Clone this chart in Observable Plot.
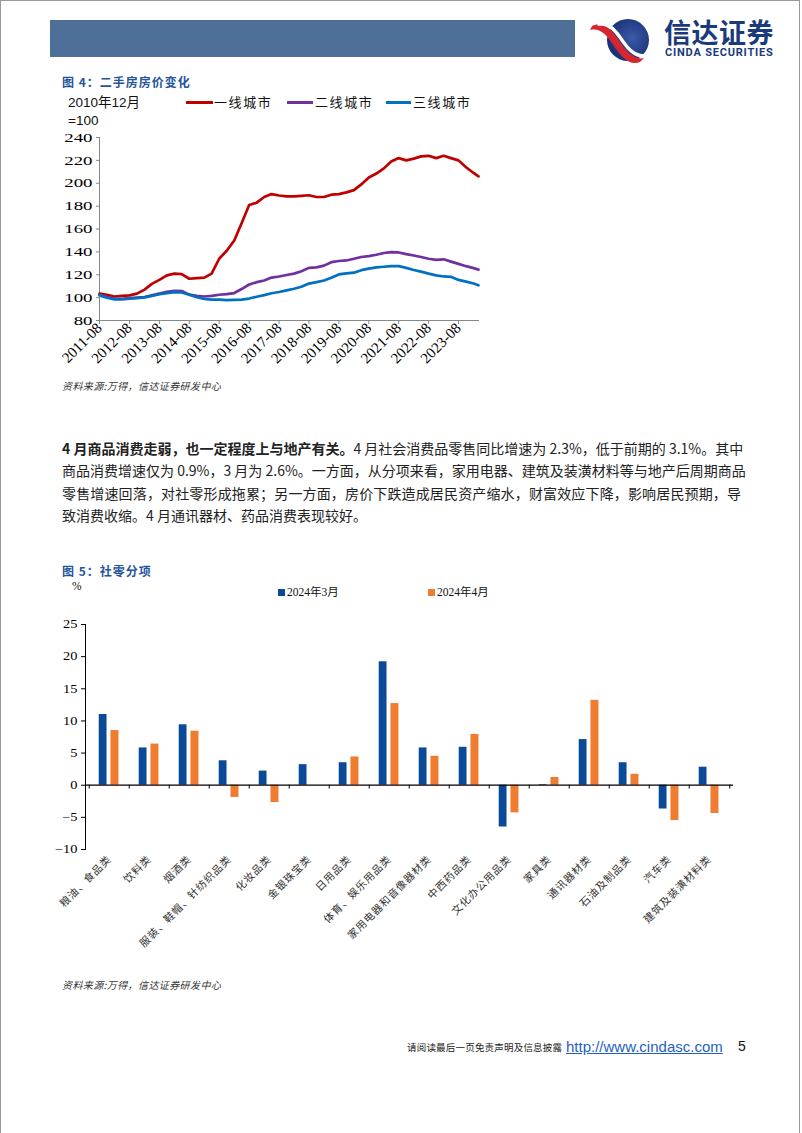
<!DOCTYPE html>
<html><head><meta charset="utf-8">
<script src="https://cdn.jsdelivr.net/npm/d3@7"></script>
<script src="https://cdn.jsdelivr.net/npm/@observablehq/plot@0.6"></script>
<style>
html,body{margin:0;padding:0;background:#fff;}
#page{position:relative;width:802px;height:1133px;overflow:hidden;font-family:"Noto Sans CJK SC",sans-serif;color:#222;}
.a{position:absolute;white-space:nowrap;}
.title{font-size:12px;font-weight:700;color:#25549a;letter-spacing:1px;line-height:16px;}
.src{font-size:10px;font-style:italic;color:#333;letter-spacing:0.4px;line-height:14px;font-family:"Noto Sans CJK SC",sans-serif;}
.para{left:62px;width:679px;font-size:14px;line-height:22px;color:#222;text-align:justify;text-align-last:justify;}
.leg{font-size:13px;line-height:16px;color:#111;letter-spacing:1.6px;}
.sw{position:absolute;height:3px;}
.bleg{font-family:"Liberation Serif","Noto Sans CJK SC",serif;font-size:11.5px;line-height:14px;color:#111;}
.sq{position:absolute;width:7px;height:7px;}
</style></head>
<body><div id="page">
<div class="a" style="left:0;top:0;width:800px;height:1133px;border-left:1px solid #999;border-top:1px solid #999;border-right:1px solid #999;box-sizing:border-box;"></div>
<div class="a" style="left:50px;top:20px;width:525px;height:37px;background:#4e6f98;"></div>
<svg class="a" style="left:586px;top:16px;" width="72" height="50" viewBox="0 0 72 50">
  <defs><radialGradient id="lg" cx="0.6" cy="0.45" r="0.6"><stop offset="0" stop-color="#3c5aa8"/><stop offset="1" stop-color="#162f72"/></radialGradient></defs>
  <circle cx="42" cy="24" r="21" fill="url(#lg)"/>
  <path d="M6,10 C18,4 26,14 34,26 C42,38 50,44 58,42 L54,46 C44,50 36,42 28,30 C20,18 14,12 4,14 Z" fill="#d7262f"/>
  <path d="M11,8 C22,3 30,12 38,24 C46,36 54,40 62,37 L60,40 C52,44 44,38 36,27 C28,15 22,8 12,10 Z" fill="#fff"/>
</svg>
<div class="a" style="left:664px;top:18px;font-size:27px;line-height:28px;font-weight:700;color:#1b3a7c;letter-spacing:0.5px;">信达证券<br><span style="display:inline-block;vertical-align:top;position:relative;top:1px;left:1px;font-family:Roboto,sans-serif;font-size:11px;line-height:12px;letter-spacing:0.8px;">CINDA SECURITIES</span></div>

<div class="a title" style="left:62px;top:74px;">图 4：二手房房价变化</div>
<div class="a" style="left:68px;top:94px;font-family:'Liberation Sans','Noto Sans CJK SC',sans-serif;font-size:13.5px;line-height:17px;color:#111;">2010年12月</div>
<div class="a" style="left:68px;top:112px;font-family:'Liberation Sans',sans-serif;font-size:13.5px;line-height:17px;color:#111;">=100</div>
<div class="sw" style="left:186px;top:101px;width:27px;background:#c00000;"></div>
<div class="a leg" style="left:214px;top:94px;">一线城市</div>
<div class="sw" style="left:287px;top:101px;width:26px;background:#7030a0;"></div>
<div class="a leg" style="left:315px;top:94px;">二线城市</div>
<div class="sw" style="left:386px;top:101px;width:25px;background:#0070c0;"></div>
<div class="a leg" style="left:413px;top:94px;">三线城市</div>
<div id="c1" class="a" style="left:0;top:125px;"></div>
<div class="a src" style="left:62px;top:379px;">资料来源:万得，信达证券研发中心</div>

<div class="a para" style="top:437px;"><b>4 月商品消费走弱，也一定程度上与地产有关。</b>4 月社会消费品零售同比增速为 2.3%，低于前期的 3.1%。其中</div>
<div class="a para" style="top:459px;">商品消费增速仅为 0.9%，3 月为 2.6%。一方面，从分项来看，家用电器、建筑及装潢材料等与地产后周期商品</div>
<div class="a para" style="top:482px;">零售增速回落，对社零形成拖累；另一方面，房价下跌造成居民资产缩水，财富效应下降，影响居民预期，导</div>
<div class="a para" style="top:504px;text-align-last:left;">致消费收缩。4 月通讯器材、药品消费表现较好。</div>

<div class="a title" style="left:62px;top:563px;">图 5：社零分项</div>
<div class="a bleg" style="left:72px;top:579px;">%</div>
<div class="sq" style="left:278px;top:589px;background:#0b4a99;"></div>
<div class="a bleg" style="left:287px;top:585px;">2024年3月</div>
<div class="sq" style="left:428px;top:589px;background:#ee7d31;"></div>
<div class="a bleg" style="left:437px;top:585px;">2024年4月</div>
<div id="c2" class="a" style="left:0;top:610px;"></div>
<div class="a src" style="left:62px;top:978px;">资料来源:万得，信达证券研发中心</div>

<div class="a" style="left:407px;top:1039px;font-size:9.5px;line-height:16px;color:#222;letter-spacing:0.2px;">请阅读最后一页免责声明及信息披露</div>
<div class="a" style="left:566px;top:1038px;font-family:'Liberation Sans',sans-serif;font-size:15px;line-height:17px;color:#1f5fbf;text-decoration:underline;">http://www.cindasc.com</div>
<div class="a" style="left:738px;top:1038px;font-family:'Liberation Sans',sans-serif;font-size:14px;line-height:17px;color:#111;">5</div>
</div>
<script>
// ---------- Chart 1: 二手房房价变化 (2010年12月=100) ----------
const dates = ["2011-08","2011-11","2012-02","2012-05","2012-08","2012-11","2013-02","2013-05","2013-08","2013-11",
"2014-02","2014-05","2014-08","2014-11","2015-02","2015-05","2015-08","2015-11","2016-02","2016-05",
"2016-08","2016-11","2017-02","2017-05","2017-08","2017-11","2018-02","2018-05","2018-08","2018-11",
"2019-02","2019-05","2019-08","2019-11","2020-02","2020-05","2020-08","2020-11","2021-02","2021-05",
"2021-08","2021-11","2022-02","2022-05","2022-08","2022-11","2023-02","2023-05","2023-08","2023-11",
"2024-02","2024-04"];
const tier1 = [103.5,102.5,101,101.5,102,103.5,107,112,115.5,119.5,
121,120.5,116.5,117,117.5,121,134,141,150,165,
181,183,188,190.5,189.3,188.5,188.5,189,189.5,188,
188,190,190.5,192,194,199,205,208.5,213,219,
222,220,221.5,223.5,224,222,224,222,220,214,
209,206];
const tier2 = [102.5,100.5,99,99,99.5,100,100.5,102,103.5,105,
106,105.8,102.6,101.5,101,101.5,102.5,103,104,107.5,
111.5,113.5,115,117.5,118.5,119.8,121,123,126,126.5,
128,131,132,132.5,134,135.5,136.3,137.5,139,139.8,
139.5,138,136.8,135.5,134,133,133.5,131.5,129.5,127.5,
125.8,124.5];
const tier3 = [102,100,98.5,98.5,99,99.5,100.2,101.5,103,104,
104.8,104.5,102.5,100.3,98.8,98.3,98.2,97.8,98,98.3,
99.2,100.8,102.2,103.8,104.9,106.3,107.8,109.5,112.3,113.5,
115,117.3,120.3,121.2,121.8,124,125.3,126.4,127,127.6,
127.5,126,124.2,122.7,121,119.5,118.5,118.2,115.5,114,
112.3,110.8];
const cityTiers = ["一线城市","二线城市","三线城市"];
const tierColors = ["#c00000","#7030a0","#0070c0"];
const xTickLabels = ["2011-08","2012-08","2013-08","2014-08","2015-08","2016-08","2017-08","2018-08","2019-08","2020-08","2021-08","2022-08","2023-08"];
const yTicks1 = [80,100,120,140,160,180,200,220,240];

// ---------- Chart 2: 社零分项 ----------
const categories = ["粮油、食品类","饮料类","烟酒类","服装、鞋帽、针纺织品类","化妆品类","金银珠宝类","日用品类","体育、娱乐用品类","家用电器和音像器材类","中西药品类","文化办公用品类","家具类","通讯器材类","石油及制品类","汽车类","建筑及装潢材料类"];
const mar2024 = [11.0,5.8,9.4,3.8,2.2,3.2,3.5,19.2,5.8,5.9,-6.5,0.1,7.1,3.5,-3.7,2.8];
const apr2024 = [8.5,6.4,8.4,-1.9,-2.7,null,4.4,12.7,4.5,7.9,-4.3,1.2,13.2,1.7,-5.5,-4.4];
const months = ["2024年3月","2024年4月"];
const monthColors = ["#0b4a99","#ee7d31"];
const yTicks2 = [-10,-5,0,5,10,15,20,25];

function stretchText(svg, selector, sx) {
  svg.querySelectorAll(selector).forEach(t => {
    const tr = t.getAttribute("transform");
    if (tr) t.setAttribute("transform", tr + ` scale(${sx},1)`);
    else { t.style.transformBox = "fill-box"; t.style.transformOrigin = "right center"; t.style.transform = `scaleX(${sx})`; }
  });
}

const parse = d3.utcParse("%Y-%m");
const lineData = [];
[tier1, tier2, tier3].forEach((arr, k) => arr.forEach((v, i) => lineData.push({date: parse(dates[i]), value: v, tier: cityTiers[k]})));

const chart1 = Plot.plot({
  width: 500, height: 267,
  marginLeft: 99, marginRight: 22, marginTop: 12, marginBottom: 72,
  x: {type: "utc", domain: [parse(dates[0]), parse(dates[dates.length - 1])]},
  y: {domain: [80, 240]},
  color: {domain: cityTiers, range: tierColors},
  style: {fontFamily: "'Liberation Serif', serif", fontSize: "13px", color: "#000", background: "transparent", overflow: "visible"},
  marks: [
    Plot.axisY({ticks: yTicks1, tickSize: 3, tickPadding: 4, label: null, stroke: "#888"}),
    Plot.axisX({ticks: xTickLabels.map(parse), tickFormat: d3.utcFormat("%Y-%m"), tickRotate: -45, tickSize: 4, tickPadding: 1, label: null, stroke: "#888", fontSize: 15}),
    Plot.frame({anchor: "left", stroke: "#888"}),
    Plot.frame({anchor: "bottom", stroke: "#888"}),
    Plot.line(lineData, {x: "date", y: "value", z: "tier", stroke: "tier", strokeWidth: 2.7, curve: "linear"})
  ]
});
stretchText(chart1, 'g[aria-label="y-axis tick label"] text', 1.45);
document.getElementById("c1").appendChild(chart1);

const barData = [];
categories.forEach((c, i) => {
  if (mar2024[i] != null) barData.push({cat: c, value: mar2024[i], month: months[0]});
  if (apr2024[i] != null) barData.push({cat: c, value: apr2024[i], month: months[1]});
});
const W2 = 802, ML2 = 85, MR2 = 69;
const bw = (W2 - ML2 - MR2) / categories.length;

const chart2 = Plot.plot({
  width: W2, height: 344,
  marginLeft: ML2, marginRight: MR2, marginTop: 14, marginBottom: 105,
  x: {type: "band", domain: categories, padding: 0},
  y: {domain: [-10, 25]},
  color: {domain: months, range: monthColors},
  style: {fontFamily: "'Liberation Serif', serif", fontSize: "12px", color: "#000", background: "transparent", overflow: "visible"},
  marks: [
    Plot.barY(barData.filter(d => d.month === months[0]), {x: "cat", y: "value", fill: "month", insetLeft: bw * 0.24, insetRight: bw * 0.555}),
    Plot.barY(barData.filter(d => d.month === months[1]), {x: "cat", y: "value", fill: "month", insetLeft: bw * 0.53, insetRight: bw * 0.26}),
    Plot.ruleY([0], {stroke: "#000", strokeWidth: 1.2}),
    Plot.ruleX(categories, {x: d => d, dx: -bw / 2, y1: 0, y2: -0.6, stroke: "#000"}),
    Plot.ruleX(categories.slice(-1), {x: d => d, dx: bw / 2, y1: 0, y2: -0.6, stroke: "#000"}),
    Plot.frame({anchor: "left", stroke: "#000"}),
    Plot.axisY({ticks: yTicks2, tickSize: 4, tickPadding: 4, label: null}),
    Plot.axisX({tickRotate: -45, tickSize: 0, tickPadding: 8, label: null, fontFamily: "'Noto Sans CJK SC', sans-serif", fontSize: 10.5, fill: "#333"})
  ]
});
stretchText(chart2, 'g[aria-label="y-axis tick label"] text', 1.2);
chart2.querySelectorAll('g[aria-label="x-axis tick label"] text').forEach(t => t.style.letterSpacing = "0.8px");
document.getElementById("c2").appendChild(chart2);
</script>
</body></html>
